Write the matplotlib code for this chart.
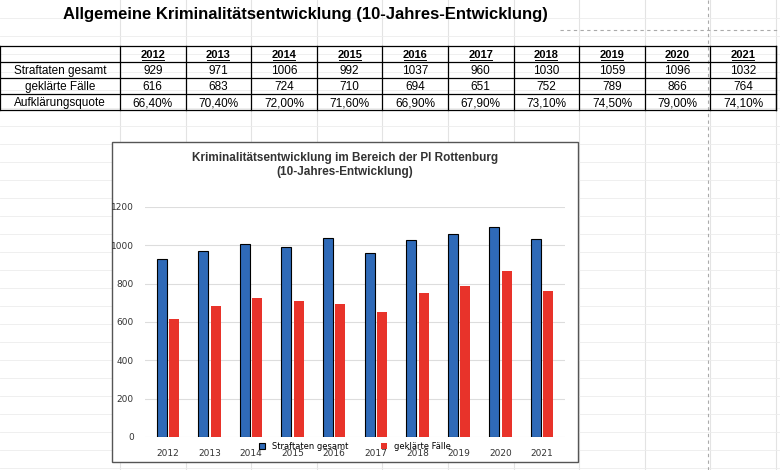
import matplotlib.pyplot as plt
import numpy as np

years = ['2012', '2013', '2014', '2015', '2016', '2017', '2018', '2019', '2020', '2021']
straftaten = [929, 971, 1006, 992, 1037, 960, 1030, 1059, 1096, 1032]
geklaert = [616, 683, 724, 710, 694, 651, 752, 789, 866, 764]
quote = ['66,40%', '70,40%', '72,00%', '71,60%', '66,90%', '67,90%', '73,10%', '74,50%', '79,00%', '74,10%']
row_labels = ['Straftaten gesamt', 'geklärte Fälle', 'Aufklärungsquote']

W, H = 780, 470
fig = plt.figure(figsize=(W / 100, H / 100), dpi=100)
bg = fig.add_axes([0, 0, 1, 1])
bg.set_xlim(0, W)
bg.set_ylim(H, 0)
bg.axis('off')

# spreadsheet grid
col_x = [0, 120] + [120 + 65.6 * i for i in range(1, 11)]
for x in col_x[1:]:
    bg.plot([x, x], [0, H], color='#e3e3e3', lw=0.8, zorder=0)
for y in range(18, H, 18):
    bg.plot([0, W], [y, y], color='#ececec', lw=0.6, zorder=0)
bg.plot([708, 708], [0, H], color='#aaaaaa', lw=0.8, ls=(0, (3, 3)))
bg.plot([560, W], [30, 30], color='#aaaaaa', lw=0.8, ls=(0, (3, 3)))

bg.text(63, 14, 'Allgemeine Kriminalitätsentwicklung (10-Jahres-Entwicklung)',
        fontsize=12, fontweight='bold', family='Liberation Sans', va='center')

# table
top, rh = 46, 16
nrows = 4
for r in range(nrows + 1):
    bg.plot([0, W - 4], [top + r * rh, top + r * rh], color='black', lw=0.9)
for x in col_x + [W - 4]:
    bg.plot([x, x], [top, top + nrows * rh], color='black', lw=0.9)
centers = [(col_x[i] + (col_x[i + 1] if i + 1 < len(col_x) else W - 4)) / 2 for i in range(len(col_x))]
for i, yr in enumerate(years):
    bg.text(centers[i + 1], top + rh / 2 + 1, yr, ha='center', va='center',
            fontsize=8, fontweight='bold', family='Liberation Sans')
    bg.plot([centers[i + 1] - 11, centers[i + 1] + 11], [top + rh - 2, top + rh - 2], color='black', lw=0.7)
rows = [[str(v) for v in straftaten], [str(v) for v in geklaert], quote]
for r, (lab, vals) in enumerate(zip(row_labels, rows)):
    y = top + (r + 1.5) * rh + 1
    bg.text(centers[0], y, lab, ha='center', va='center', fontsize=8.5, family='Liberation Sans')
    for i, v in enumerate(vals):
        bg.text(centers[i + 1], y, v, ha='center', va='center', fontsize=8.5, family='Liberation Sans')

# chart box
bg.add_patch(plt.Rectangle((112, 142), 466, 320, facecolor='white', edgecolor='#555555', lw=1, zorder=1))
bg.text(345, 165, 'Kriminalitätsentwicklung im Bereich der PI Rottenburg\n(10-Jahres-Entwicklung)',
        ha='center', va='center', fontsize=8.5, fontweight='bold', family='Liberation Sans',
        color='#333333', zorder=2, linespacing=1.2)

ax = fig.add_axes([145 / W, 1 - 437 / H, 420 / W, 230 / H], zorder=3)
ax.patch.set_alpha(0)
x = np.arange(len(years))
w = 0.24
ax.bar(x - 0.15, straftaten, w, color='#2f6ab8', edgecolor='black', lw=0.8, label='Straftaten gesamt')
ax.bar(x + 0.15, geklaert, w, color='#e8332a', label='geklärte Fälle')
ax.set_ylim(0, 1200)
ax.set_xlim(-0.55, 9.55)
ax.set_yticks(range(0, 1201, 200))
ax.yaxis.grid(True, color='#dddddd', lw=0.8)
ax.set_axisbelow(True)
for s in ax.spines.values():
    s.set_visible(False)
ax.tick_params(length=0, labelsize=6.5, colors='#333333', pad=8)
ax.tick_params(axis='x', pad=9)
ax.set_xticks(x)
ax.set_xticklabels(years)
ax.legend(loc='upper center', bbox_to_anchor=(0.5, -0.005), ncol=2, frameon=False,
          fontsize=6, handlelength=0.7, handleheight=0.7, columnspacing=4, borderpad=0)

fig.savefig('out.png', dpi=100, facecolor='white')
